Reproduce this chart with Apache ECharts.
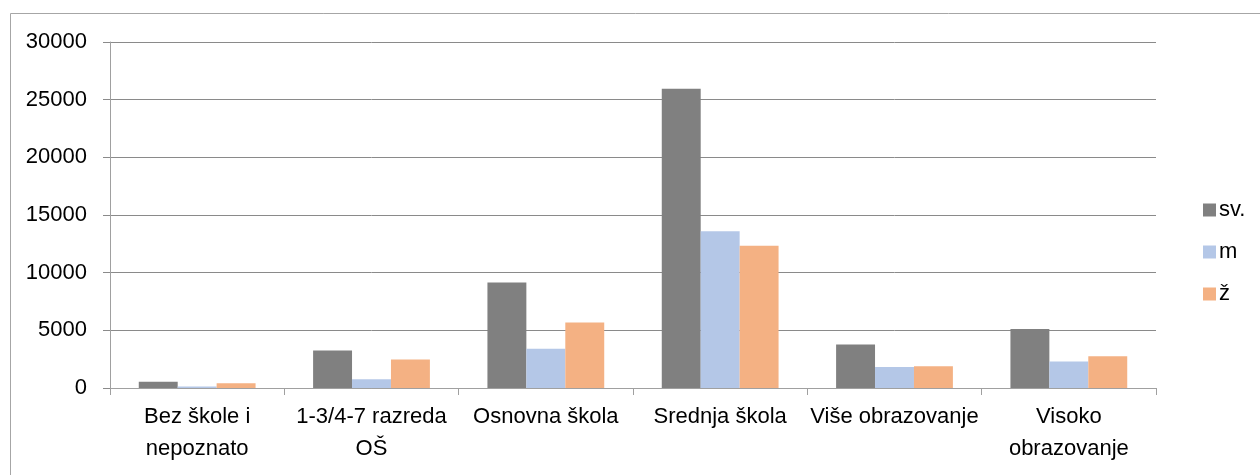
<!DOCTYPE html>
<html>
<head>
<meta charset="utf-8">
<script src="https://cdn.jsdelivr.net/npm/echarts@6/dist/echarts.min.js"></script>
<style>
html,body{margin:0;padding:0;background:#fff;}
#chart{width:1260px;height:475px;}
</style>
</head>
<body>
<div id="chart"></div>
<script>
const categories = ['Bez škole i\nnepoznato', '1-3/4-7 razreda\nOŠ', 'Osnovna škola', 'Srednja škola', 'Više obrazovanje', 'Visoko\nobrazovanje'];
const seriesNames = ['sv.', 'm', 'ž'];
const svValues = [550, 3250, 9150, 25950, 3780, 5110];
const mValues = [120, 760, 3400, 13600, 1830, 2300];
const zValues = [410, 2470, 5670, 12330, 1890, 2760];
const yTicks = { min: 0, max: 30000, interval: 5000 };
const colors = ['#808080', '#b4c7e7', '#f4b183'];

const font = 'Liberation Sans, Arial, sans-serif';
const chart = echarts.init(document.getElementById('chart'), null, { renderer: 'canvas' });
const values = [svValues, mValues, zValues];
chart.setOption({
  animation: false,
  backgroundColor: '#ffffff',
  textStyle: { fontFamily: font },
  graphic: [{
    type: 'rect', z: -1, silent: true,
    shape: { x: 10.5, y: 13.5, width: 1300, height: 500 },
    style: { fill: 'none', stroke: '#a6a6a6', lineWidth: 1 }
  }],
  grid: { left: 110, right: 104, top: 42, bottom: 87, containLabel: false },
  legend: {
    orient: 'vertical',
    left: 1198,
    top: 194,
    itemWidth: 13,
    itemHeight: 13,
    itemGap: 20,
    icon: 'rect',
    textStyle: { fontSize: 22, color: '#000', fontFamily: font, padding: [0, 0, 0, -2] },
    data: seriesNames
  },
  xAxis: {
    type: 'category',
    data: categories,
    axisLine: { lineStyle: { color: '#a0a0a0', width: 1 } },
    axisTick: { show: true, length: 7, lineStyle: { color: '#a0a0a0' } },
    axisLabel: { fontSize: 22, color: '#000', fontFamily: font, margin: 13, lineHeight: 32, interval: 0 },
    splitLine: { show: false }
  },
  yAxis: {
    type: 'value',
    min: yTicks.min, max: yTicks.max, interval: yTicks.interval,
    axisLine: { show: true, lineStyle: { color: '#a0a0a0', width: 1 } },
    axisTick: { show: true, length: 7, lineStyle: { color: '#8a8a8a' } },
    axisLabel: { fontSize: 22, color: '#000', fontFamily: font, margin: 23, formatter: v => String(v) },
    splitLine: { show: true, lineStyle: { color: '#8a8a8a', width: 1 } }
  },
  series: seriesNames.map((n, i) => ({
    name: n,
    type: 'bar',
    data: values[i],
    barGap: '0%',
    barCategoryGap: '33%',
    itemStyle: { color: colors[i] }
  }))
});
</script>
</body>
</html>
